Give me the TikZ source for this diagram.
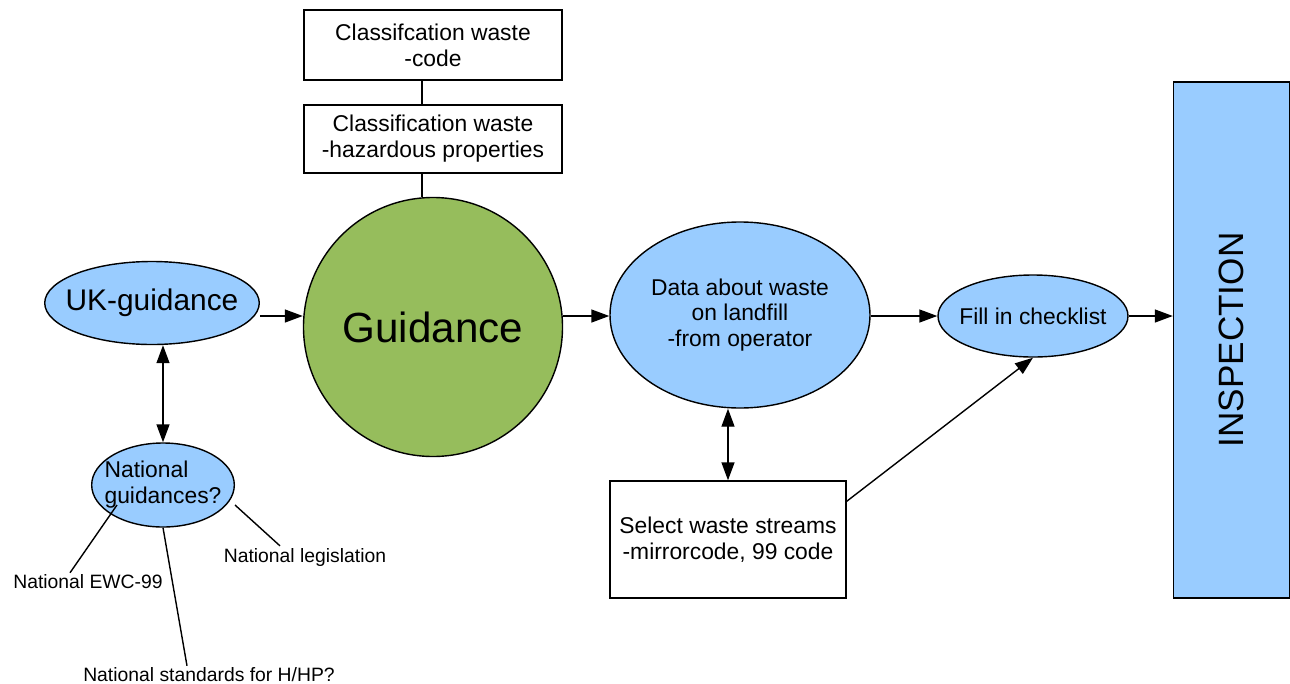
\documentclass[tikz,border=0pt]{standalone}
\usepackage{fontspec}
\usepackage{graphicx}
\setmainfont{Liberation Sans}
\usetikzlibrary{shapes.geometric,arrows.meta,positioning}
\definecolor{skyblue}{RGB}{153,204,255}
\definecolor{leafgreen}{RGB}{150,189,92}

\begin{document}
\begin{tikzpicture}[
	every node/.style={font=\fontsize{13}{14.7}\selectfont, align=center},
	box/.style={draw, line width=0.8pt, rectangle, inner sep=0pt},
	bubble/.style={draw, line width=0.8pt, ellipse, fill=skyblue, inner sep=0pt},
	note/.style={font=\fontsize{11}{13}\selectfont, inner sep=1pt},
	link/.style={line width=0.8pt},
	arrow/.style={line width=0.8pt, -{Triangle[length=3.6mm,width=2.6mm]}},
	twoway/.style={line width=0.8pt, {Triangle[length=3.6mm,width=2.6mm]}-{Triangle[length=3.6mm,width=2.6mm]}}
	]
	\useasboundingbox (0,0) rectangle (25.8,-13.68);
	% classification boxes and the main guidance
	\node[box, minimum width=5.16cm, minimum height=1.4cm] (code) at (8.66,-0.9) {Classifcation waste\\-code};
	\node[box, minimum width=5.16cm, minimum height=1.36cm] (hazard) at (8.66,-2.78) {Classification waste\\-hazardous properties};
	\node[draw, line width=0.8pt, circle, fill=leafgreen, minimum size=5.18cm, font=\fontsize{24}{28}\selectfont] (guid) at (8.66,-6.54) {Guidance};
	\node[bubble, inner xsep=-2.1mm, minimum width=4.26cm, minimum height=1.66cm, font=\fontsize{17}{20}\selectfont] (uk) at (3.04,-6.06) {UK-guidance};
	\node[bubble, inner xsep=-1.6mm, inner ysep=-0.8mm, minimum width=2.84cm, minimum height=1.68cm, align=left] (nat) at (3.26,-9.7) {National\\guidances?};
	\node[bubble, minimum width=5.2cm, minimum height=3.72cm] (data) at (14.8,-6.3) {Data about waste\\on landfill\\-from operator};
	\node[bubble, inner xsep=-1.6mm, minimum width=3.8cm, minimum height=1.64cm] (fill) at (20.66,-6.32) {Fill in checklist};
	\node[box, fill=skyblue, minimum width=2.32cm, minimum height=10.32cm, font=\fontsize{20}{24}\selectfont] (insp) at (24.63,-6.8) {\rotatebox{90}{INSPECTION}};
	\node[box, minimum width=4.72cm, minimum height=2.34cm] (select) at (14.56,-10.79) {Select waste streams\\-mirrorcode, 99 code};
	% loose labels round the national guidances
	\node[note] (ewc) at (1.76,-11.64) {National EWC-99};
	\node[note] (std) at (4.18,-13.5) {National standards for H/HP?};
	\node[note] (leg) at (6.1,-11.14) {National legislation};

	\draw[link] ([xshift=-2.2mm]code.south) -- ([xshift=-2.2mm]hazard.north);
	\draw[link] ([xshift=-2.2mm]hazard.south) -- ([xshift=-2.2mm]guid.north);
	\draw[arrow] (uk.east |- fill) -- (guid.west |- fill);
	\draw[arrow] (guid.east |- fill) -- (data.west |- fill);
	\draw[arrow] (data.east |- fill) -- (fill.west);
	\draw[arrow] (fill.east) -- (insp.west |- fill);
	\draw[twoway] (nat.north |- uk.south) -- (nat.north);
	\draw[twoway] (select.north |- data.south) -- (select.north);
	\draw[arrow] ([yshift=-4.2mm]select.north east) -- (fill.south);
	\draw[link] ([shift={(-0.92,-0.4)}]nat.center) -- ([xshift=-3.6mm]ewc.north);
	\draw[link] (nat.south) -- ([xshift=-4.4mm]std.north);
	\draw[link] ([shift={(1.44,-0.4)}]nat.center) -- ([xshift=-5mm]leg.north);
\end{tikzpicture}
\end{document}
